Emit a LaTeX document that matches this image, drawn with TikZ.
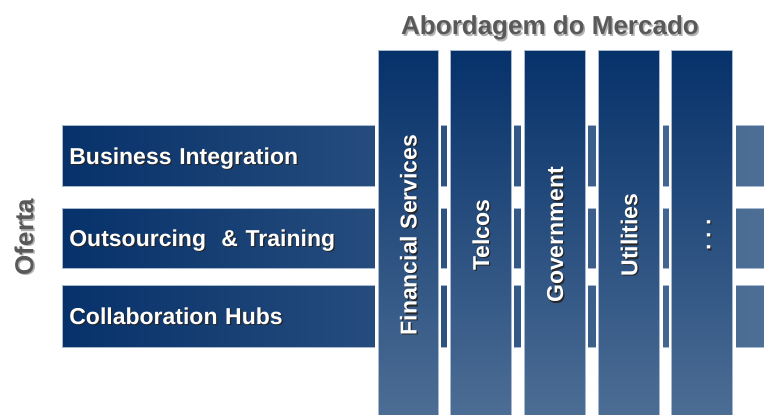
\documentclass[tikz,border=0pt]{standalone}
\usepackage{fontspec}
\setmainfont{Liberation Sans}
\usetikzlibrary{positioning}
\definecolor{navy}{HTML}{06316A}
\definecolor{steel}{HTML}{4D6E95}
\definecolor{rim}{HTML}{A7B9CF}
\definecolor{headgray}{HTML}{595959}
\newcommand{\shadowed}[4]{\rlap{\kern#1\raisebox{#2}{\textcolor{#3}{#4}}}#4}
\tikzset{
  offer/.style={draw=rim, line width=0.7pt, preaction={draw=white, line width=6pt},
    left color=navy, right color=steel, minimum width=702pt, minimum height=61pt,
    text width=688pt, inner xsep=7pt, align=left, anchor=north west, text=white,
    font=\fontsize{23}{27}\selectfont\bfseries, text height=16.5pt, text depth=0pt},
  market/.style={draw=rim, line width=0.7pt, preaction={draw=white, line width=6pt},
    rotate=90, top color=navy, bottom color=steel, minimum width=370pt,
    minimum height=61pt, inner sep=0pt, text=white,
    font=\fontsize{23}{27}\selectfont\bfseries, text height=16.5pt, text depth=0pt},
  heading/.style={text=headgray, font=\fontsize{26}{30}\selectfont\bfseries,
    text height=18.6pt, text depth=0pt, inner sep=0pt}
}

\begin{document}
\begin{tikzpicture}[x=1pt, y=-1pt]
  \useasboundingbox (0,0) rectangle (764,415);
  % offer rows
  \node[offer] (bi) at (62,125) {\shadowed{1.3pt}{-1.3pt}{black!85}{Business Integration}};
  \node[offer, minimum height=60.6pt] (ot) at (62,207.7) {\shadowed{1.3pt}{-1.3pt}{black!85}{Outsourcing \ \& Training}};
  \node[offer, minimum height=61.7pt] (ch) at (62,285) {\shadowed{1.3pt}{-1.3pt}{black!85}{Collaboration Hubs}};
  % market columns
  \node[market, minimum height=60pt] (fs) at (408.3,235) {\shadowed{-1.3pt}{-1.3pt}{black!85}{Financial Services}};
  \node[market] (tc) at (480.8,235) {\shadowed{-1.3pt}{-1.3pt}{black!85}{Telcos}};
  \node[market] (gv) at (554.8,235) {\shadowed{-1.3pt}{-1.3pt}{black!85}{Government}};
  \node[market] (ut) at (629,235) {\shadowed{-1.3pt}{-1.3pt}{black!85}{Utilities}};
  \node[market] (more) at (702,235) {\shadowed{-1.3pt}{-1.3pt}{black!85}{.\ .\ .}};
  % headings
  \node[heading, anchor=base] (abm) at (550,34.5) {\shadowed{1.5pt}{-1.5pt}{black!30}{Abordagem do Mercado}};
  \node[heading, rotate=90] (oft) at (24,237) {\shadowed{-1.5pt}{-1.5pt}{black!30}{Oferta}};
\end{tikzpicture}
\end{document}
